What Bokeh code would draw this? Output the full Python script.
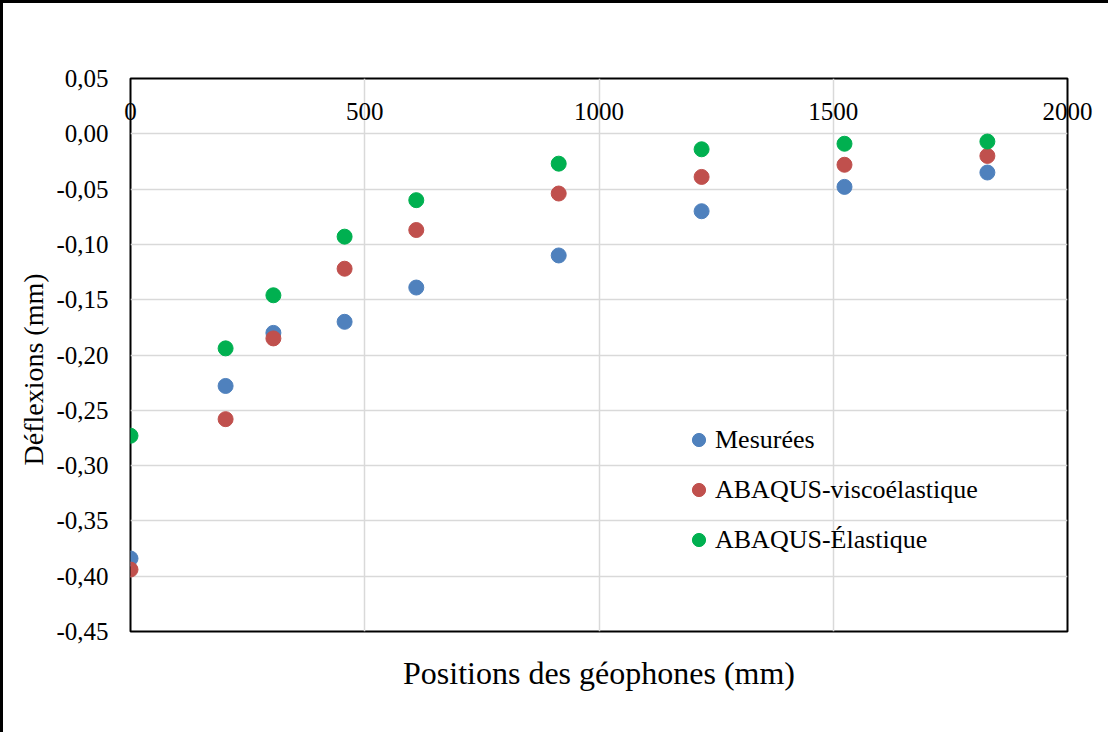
from bokeh.plotting import figure
from bokeh.models import (FixedTicker, CustomJSTickFormatter, LinearAxis, Legend, LegendItem, Range1d, Title)
from bokeh.embed import file_html
from bokeh.resources import INLINE

positions = [0, 203, 305, 457, 610, 914, 1219, 1524, 1829]
mesurees = [-0.384, -0.228, -0.180, -0.170, -0.139, -0.110, -0.070, -0.048, -0.035]
visco = [-0.394, -0.258, -0.185, -0.122, -0.087, -0.054, -0.039, -0.028, -0.020]
elastique = [-0.273, -0.194, -0.146, -0.093, -0.060, -0.027, -0.014, -0.009, -0.007]
series_names = ["Mesurées", "ABAQUS-viscoélastique", "ABAQUS-Élastique"]
colors = ["#4F81BD", "#C0504D", "#00B050"]
x_ticks = [0, 500, 1000, 1500, 2000]
y_ticks = [0.05, 0.0, -0.05, -0.10, -0.15, -0.20, -0.25, -0.30, -0.35, -0.40, -0.45]

FONT = "Liberation Serif"

p = figure(width=1105, height=729, output_backend="svg", toolbar_location=None,
           x_range=Range1d(0, 2000), y_range=Range1d(-0.45, 0.05),
           x_axis_location="above",
           min_border_left=127, min_border_right=41, min_border_top=75, min_border_bottom=101,
           frame_width=937, frame_height=553)
p.styles = {"border-left": "3px solid black", "border-top": "3px solid black"}

p.outline_line_color = "black"
p.outline_line_width = 2
p.background_fill_color = "white"
p.border_fill_color = "white"

# x axis (top, labels inside)
xa = p.xaxis[0]
xa.ticker = FixedTicker(ticks=x_ticks)
xa.axis_line_color = None
xa.major_tick_line_color = None
xa.minor_tick_line_color = None
xa.major_label_standoff = -47
xa.major_label_text_font = FONT
xa.major_label_text_font_size = "25px"
xa.major_label_text_color = "black"

# y axis
ya = p.yaxis[0]
ya.ticker = FixedTicker(ticks=y_ticks)
ya.formatter = CustomJSTickFormatter(code="""
    if (Math.abs(tick) < 1e-9) { return "0,00"; }
    return tick.toFixed(2).replace('.', ',');
""")
ya.axis_line_color = None
ya.major_tick_line_color = None
ya.minor_tick_line_color = None
ya.major_label_standoff = 16
ya.major_label_text_font = FONT
ya.major_label_text_font_size = "25px"
ya.major_label_text_color = "black"

ytitle = Title(text="Déflexions (mm)", align="left", offset=166, standoff=9)
ytitle.text_font = FONT
ytitle.text_font_size = "28px"
ytitle.text_font_style = "normal"
ytitle.text_color = "black"
p.add_layout(ytitle, "left")

# bottom axis for title only
xb = LinearAxis(ticker=FixedTicker(ticks=[]), axis_label="Positions des géophones (mm)")
xb.axis_line_color = None
xb.major_tick_line_color = None
xb.minor_tick_line_color = None
xb.major_label_text_font_size = "0px"
xb.axis_label_text_font = FONT
xb.axis_label_text_font_size = "32px"
xb.axis_label_text_font_style = "normal"
xb.axis_label_text_color = "black"
xb.axis_label_standoff = 23
p.add_layout(xb, "below")

p.xgrid.ticker = FixedTicker(ticks=x_ticks)
p.ygrid.ticker = FixedTicker(ticks=y_ticks)
for g in (p.xgrid[0], p.ygrid[0]):
    g.grid_line_color = "#D9D9D9"
    g.grid_line_width = 1.5

renderers = []
for vals, c in zip([mesurees, visco, elastique], colors):
    r = p.scatter(positions, vals, size=15, fill_color=c, line_color=c)
    renderers.append(r)

legend = Legend(items=[LegendItem(label=n, renderers=[r]) for n, r in zip(series_names, renderers)],
                location=(552, 73), orientation="vertical")
legend.padding = 0
legend.margin = 0
legend.spacing = 13
legend.glyph_width = 33
legend.glyph_height = 37
legend.label_standoff = 0
legend.label_text_font = FONT
legend.label_text_font_size = "26px"
legend.label_text_color = "black"
legend.border_line_color = None
legend.background_fill_alpha = 0
p.add_layout(legend, "center")

open("out.html", "w").write(file_html(p, INLINE))
